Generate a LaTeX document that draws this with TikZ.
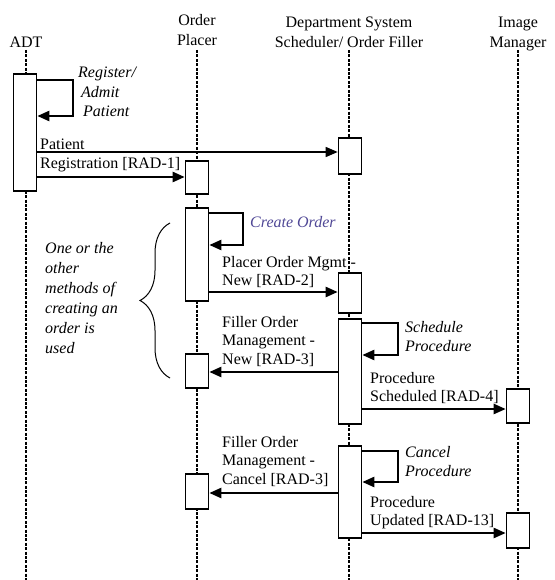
\documentclass[tikz,border=0pt]{standalone}
\usepackage{fontspec}
\setmainfont{Liberation Serif}
\usetikzlibrary{arrows.meta,decorations.pathreplacing,calc}
\definecolor{createcol}{RGB}{80,72,150}
\begin{document}
\begin{tikzpicture}[x=1pt,y=1pt,
  txt/.style={font=\fontsize{16}{18.5}\selectfont, inner sep=0, align=left, anchor=north west},
  itxt/.style={inner sep=0, align=left, anchor=north west, font=\fontsize{16}{19.5}\selectfont\itshape},
  hdr/.style={font=\fontsize{16}{20}\selectfont, inner sep=0, align=center, anchor=north},
  life/.style={line width=2.8pt, dash pattern=on 3pt off 1.4pt},
  act/.style={draw, line width=1.6pt, fill=white, minimum width=23pt, inner sep=0, anchor=north},
  msg/.style={line width=2.3pt, -{Triangle[length=12pt,width=10pt]}},
  tmsg/.style={line width=1.3pt, -{Triangle[length=12pt,width=10pt]}},
]
\useasboundingbox (0,0) rectangle (554,-580);

% headers
\node[hdr] (hADT) at (26,-36.5) {ADT};
\node[hdr] (hOP) at (197,-14.5) {Order\\Placer};
\node[hdr] (hDSS) at (349,-16.5) {Department System\\Scheduler/ Order Filler};
\node[hdr] (hIM) at (518,-16.5) {Image\\Manager};

% lifelines
\coordinate (adtT) at (26,-50);  \coordinate (adtB) at (26,-580);
\coordinate (opT) at (197,-50);  \coordinate (opB) at (197,-580);
\coordinate (dssT) at (349,-50); \coordinate (dssB) at (349,-580);
\coordinate (imT) at (518,-50);  \coordinate (imB) at (518,-580);
\draw[life] (adtT) -- (adtB);
\draw[life] (opT) -- (opB);
\draw[life] (dssT) -- (dssB);
\draw[life] (imT) -- (imB);

% activation boxes
\node[act, minimum height=117pt] (adt1) at (25,-73) {};
\node[act, minimum height=33pt] (op1) at (197,-160) {};
\node[act, minimum height=36pt] (dss1) at (350,-137) {};
\node[act, minimum height=93pt] (op2) at (197,-207) {};
\node[act, minimum height=40pt] (dss2) at (350,-272) {};
\node[act, minimum height=105pt] (dss3) at (350,-318) {};
\node[act, minimum height=34pt] (op3) at (197,-353) {};
\node[act, minimum height=34pt] (im1) at (518,-388) {};
\node[act, minimum height=35pt] (op4) at (197,-473) {};
\node[act, minimum height=92pt] (dss4) at (350,-445) {};
\node[act, minimum height=35pt] (im2) at (518,-512) {};

% self messages
\draw[msg] (adt1.east |- 0,-80) -- (73,-80) -- (73,-116) -- (adt1.east |- 0,-116);
\draw[msg] (op2.east |- 0,-213) -- (243,-213) -- (243,-245) -- (op2.east |- 0,-245);
\draw[msg] (dss3.east |- 0,-323) -- (398,-323) -- (398,-355) -- (dss3.east |- 0,-355);
\draw[msg] (dss4.east |- 0,-451) -- (398,-451) -- (398,-482) -- (dss4.east |- 0,-482);

% messages
\draw[tmsg] (adt1.east |- 0,-152) -- (dss1.west |- 0,-152);
\draw[msg] (adt1.east |- 0,-177) -- (op1.west |- 0,-177);
\draw[msg] (op2.east |- 0,-292) -- (dss2.west |- 0,-292);
\draw[msg] (dss3.west |- 0,-372) -- (op3.east |- 0,-372);
\draw[msg] (dss3.east |- 0,-409) -- (im1.west |- 0,-409);
\draw[msg] (dss4.west |- 0,-493) -- (op4.east |- 0,-493);
\draw[msg] (dss4.east |- 0,-533) -- (im2.west |- 0,-533);

% labels
\node[itxt] (lReg) at (78,-67) {Register/\\\hspace{3pt}Admit\\\hspace{5pt}Patient};
\node[txt] (lPR) at (40,-139) {Patient\\Registration [RAD-1]};
\node[itxt, text=createcol] (lCO) at (250,-216) {Create Order};
\node[txt] (lPO) at (222,-256) {Placer Order Mgmt -\\New [RAD-2]};
\node[txt] (lFN) at (222,-316) {Filler Order\\Management -\\New [RAD-3]};
\node[itxt] (lSP) at (405,-321) {Schedule\\Procedure};
\node[txt] (lPS) at (370,-372) {Procedure\\Scheduled [RAD-4]};
\node[txt] (lFC) at (222,-436) {Filler Order\\Management -\\Cancel [RAD-3]};
\node[itxt] (lCP) at (405,-446) {Cancel\\Procedure};
\node[txt] (lPU) at (370,-496) {Procedure\\Updated [RAD-13]};
\node[itxt, font=\fontsize{16}{20}\selectfont\itshape] (lOne) at (45,-242) {One or the\\other\\methods of\\creating an\\order is\\used};

% brace
\draw[line width=1pt, decorate, decoration={brace, amplitude=30pt, aspect=0.5}] (170,-378) -- (170,-223);
\end{tikzpicture}
\end{document}
